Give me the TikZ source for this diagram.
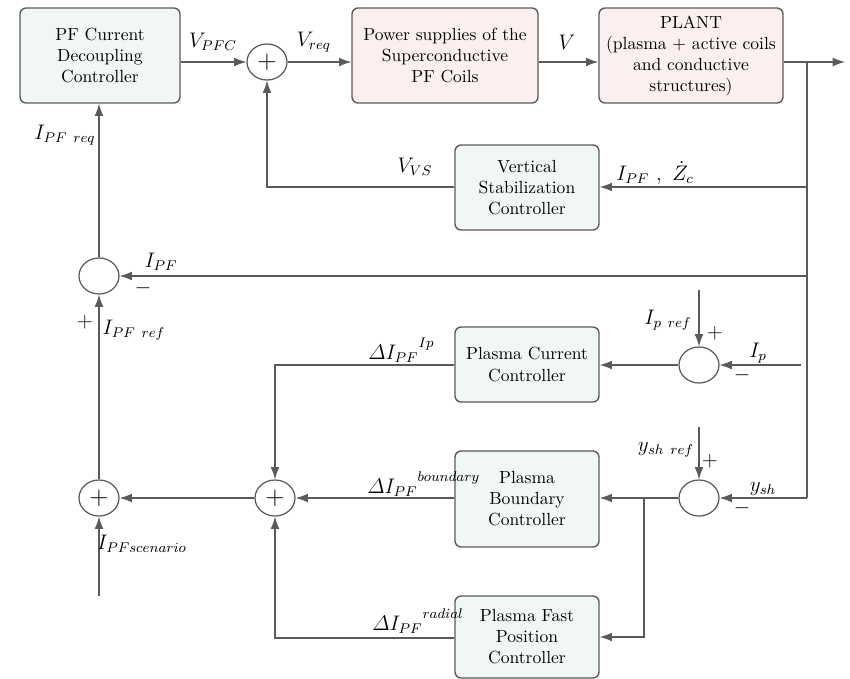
\documentclass[tikz,border=0pt]{standalone}
\usepackage{amsmath}
\usetikzlibrary{arrows.meta,shapes.geometric}
\definecolor{boxgreen}{HTML}{F1F8F4}
\definecolor{boxpink}{HTML}{FCEFEF}
\definecolor{linegray}{HTML}{5A5A5A}
\def\U{0.57pt}
\newcommand{\rsup}[1]{{}^{\raisebox{2.5pt}{$\scriptstyle #1$}}}
\begin{document}
\begin{tikzpicture}[x=0.57pt,y=-0.57pt,
 blk/.style={draw=linegray, line width=0.8pt, rounded corners=3.5pt, align=center, inner sep=2pt},
 gblk/.style={blk, fill=boxgreen},
 pblk/.style={blk, fill=boxpink},
 sumnode/.style={ellipse, draw=linegray, line width=0.7pt, minimum width=40*\U, minimum height=36*\U, inner sep=0pt, font=\Large},
 arr/.style={-{Latex[length=7pt,width=5pt]}, draw=linegray, line width=0.6pt},
 ln/.style={draw=linegray, line width=0.6pt},
 lbl/.style={font=\large, inner sep=0pt}]
\useasboundingbox (0,0) rectangle (850,679);
% blocks
\node[gblk, minimum width=160*\U, minimum height=95*\U] (pfc) at (100,55.5) {PF Current\\Decoupling\\Controller};
\node[pblk, minimum width=186*\U, minimum height=95*\U] (ps) at (445,55.5) {Power supplies of the\\Superconductive\\PF Coils};
\node[pblk, minimum width=184*\U, minimum height=95*\U] (plant) at (691,55.5) {PLANT\\(plasma + active coils\\and conductive\\structures)};
\node[gblk, minimum width=144*\U, minimum height=85*\U] (vs) at (527,187.5) {Vertical\\Stabilization\\Controller};
\node[gblk, minimum width=144*\U, minimum height=75*\U] (ipc) at (527,364.5) {Plasma Current\\Controller};
\node[gblk, minimum width=144*\U, minimum height=96*\U] (pbc) at (527,499) {Plasma\\Boundary\\Controller};
\node[gblk, minimum width=144*\U, minimum height=82*\U] (pfp) at (527,637) {Plasma Fast\\Position\\Controller};
% summing junctions
\node[sumnode] (s1) at (267,62) {$+$};
\node[sumnode] (sPF) at (99,276) {};
\node[sumnode] (sL) at (99,498) {$+$};
\node[sumnode] (sM) at (275,498) {$+$};
\node[sumnode] (sIp) at (699,365) {};
\node[sumnode] (sY) at (699,498) {};
% coordinates
\coordinate (out) at (845,62);
\coordinate (btop) at (807,62);
\coordinate (bvs) at (807,187);
\coordinate (bpf) at (807,276);
\coordinate (bbot) at (807,498);
\coordinate (ipin) at (801,365);
\coordinate (ipref) at (699,290);
\coordinate (yref) at (699,427);
\coordinate (br) at (644,498);
\coordinate (scen) at (99,596);
\coordinate (rowr) at (0,638);
% forward path
\draw[arr] (pfc.east |- s1) -- (s1.west);
\draw[arr] (s1.east) -- (s1.east -| ps.west);
\draw[arr] (ps.east |- s1) -- (plant.west |- s1);
\draw[arr] (plant.east |- s1) -- (out);
% bus
\draw[ln] (btop) -- (bbot);
\draw[arr] (bvs) -- (vs.east |- bvs);
\draw[arr] (bpf) -- (sPF.east);
\draw[arr] (bbot) -- (sY.east);
\draw[arr] (vs.west |- bvs) -- (s1 |- bvs) -- (s1.south);
% Ip loop
\draw[arr] (ipin) -- (sIp.east);
\draw[arr] (ipref) -- (sIp.north);
\draw[arr] (sIp.west) -- (ipc.east |- sIp);
\draw[arr] (ipc.west |- sIp) -- (sM |- sIp) -- (sM.north);
% shape loop
\draw[arr] (yref) -- (sY.north);
\draw[arr] (sY.west) -- (pbc.east |- sY);
\draw[arr] (br) -- (br |- pfp) -- (pfp.east);
\draw[arr] (pbc.west |- sM) -- (sM.east);
\draw[arr] (pfp.west |- rowr) -- (sM |- rowr) -- (sM.south);
% left column
\draw[arr] (sM.west) -- (sL.east);
\draw[arr] (scen) -- (sL.south);
\draw[arr] (sL.north) -- (sPF.south);
\draw[arr] (sPF.north) -- (sPF.north |- pfc.south);
% labels
\node[lbl] at (213,42) {$V_{PFC}$};
\node[lbl] at (314,42) {$V_{req}$};
\node[lbl] at (567,42) {$V$};
\node[lbl] at (65,135) {$I_{PF\ req}$};
\node[lbl] at (415,167) {$V_{VS}$};
\node[lbl] at (655,173) {$I_{PF}\ ,\ \dot{Z}_c$};
\node[lbl] at (161,262) {$I_{PF}$};
\node[lbl] at (143,288) {$-$};
\node[lbl] at (85,322) {$+$};
\node[lbl] at (134,330) {$I_{PF\ ref}$};
\node[lbl] at (668,320) {$I_{p\ ref}$};
\node[lbl] at (715,333) {$+$};
\node[lbl] at (758,353) {$I_p$};
\node[lbl] at (742,375) {$-$};
\node[lbl] at (666,450) {$y_{sh\ ref}$};
\node[lbl] at (710,461) {$+$};
\node[lbl] at (763,489) {$y_{sh}$};
\node[lbl] at (742,508) {$-$};
\node[lbl] at (142,544) {$I_{PFscenario}$};
\node[lbl, anchor=west] at (368,350) {$\varDelta I_{PF}\rsup{Ip}$};
\node[lbl, anchor=west] at (367,484) {$\varDelta I_{PF}\rsup{boundary}$};
\node[lbl, anchor=west] at (372,621) {$\varDelta I_{PF}\rsup{radial}$};
\end{tikzpicture}
\end{document}
